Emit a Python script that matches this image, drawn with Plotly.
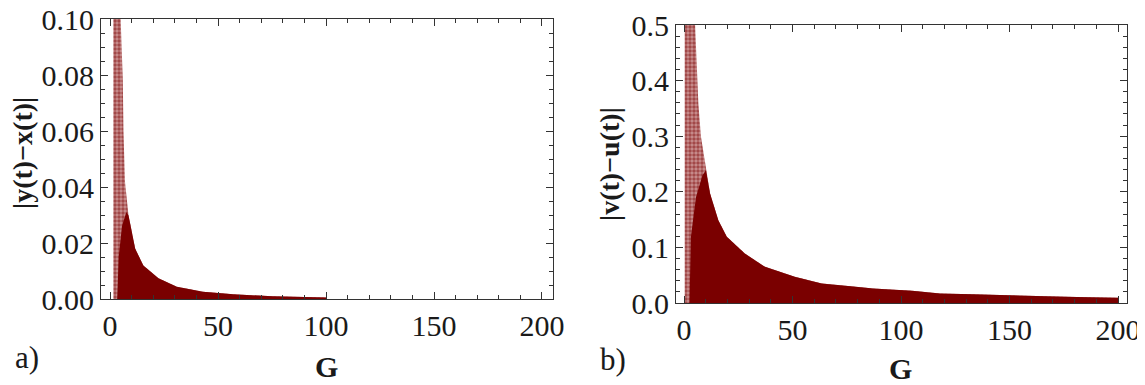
import plotly.graph_objects as go

# ---- data (envelopes of the point clouds) ----
# panel a) : |y(t)-x(t)| versus G, upper envelope of the cloud
G_a_upper = [1.5, 4.9, 5.9, 6.2, 6.9, 8.5, 10.0, 11.6, 15.4, 22.4, 30.9, 43.0, 57.0, 75.0, 100.0]
D_a_upper = [0.100, 0.100, 0.078, 0.060, 0.042, 0.030, 0.024, 0.018, 0.012, 0.0074, 0.0044, 0.0026, 0.0017, 0.0010, 0.0005]
# left edge of the densely filled part of cloud a)
G_a_dense_edge = [3.3, 4.0, 5.5, 7.5]
D_a_dense_edge = [0.0, 0.015, 0.026, 0.031]

# panel b) : |v(t)-u(t)| versus G, upper envelope of the cloud
G_b_upper = [0.3, 5.1, 5.8, 6.6, 7.8, 10.1, 12.0, 15.8, 19.7, 28.0, 37.3, 51.0, 63.4, 72.0, 87.2, 105.0, 118.0, 132.6, 153.0, 181.0, 200.0]
D_b_upper = [0.50, 0.50, 0.419, 0.359, 0.299, 0.239, 0.197, 0.149, 0.119, 0.089, 0.065, 0.047, 0.035, 0.032, 0.026, 0.022, 0.017, 0.0156, 0.013, 0.0108, 0.0096]
G_b_dense_edge = [2.5, 3.2, 5.5, 8.5]
D_b_dense_edge = [0.0, 0.12, 0.19, 0.23]

x_ticks = [0, 50, 100, 150, 200]
y_ticks_a = [0.0, 0.02, 0.04, 0.06, 0.08, 0.10]
y_ticks_b = [0.0, 0.1, 0.2, 0.3, 0.4, 0.5]

RED = '#7a0000'
FONT = 'Liberation Serif'
INK = '#1a1a1a'

fig = go.Figure()


def add_cloud(gu, du, ge, de, n_dense_start, xa, ya):
    # sparse (speckled) part: whole region under the envelope
    x_s = [gu[0]] + gu + [gu[-1], gu[0]]
    y_s = [0.0] + du + [0.0, 0.0]
    fig.add_trace(go.Scatter(
        x=x_s, y=y_s, mode='lines', fill='toself',
        line=dict(width=0, color=RED), fillcolor='#c08080',
        fillpattern=dict(shape='.', fgcolor=RED, bgcolor='#c89090', size=4, solidity=0.6),
        xaxis=xa, yaxis=ya, hoverinfo='skip', showlegend=False))
    # dense part
    x_d = ge + gu[n_dense_start:] + [gu[-1], ge[0]]
    y_d = de + du[n_dense_start:] + [0.0, 0.0]
    fig.add_trace(go.Scatter(
        x=x_d, y=y_d, mode='lines', fill='toself',
        line=dict(width=0, color=RED), fillcolor=RED,
        xaxis=xa, yaxis=ya, hoverinfo='skip', showlegend=False))


add_cloud(G_a_upper, D_a_upper, G_a_dense_edge, D_a_dense_edge, 5, 'x', 'y')
add_cloud(G_b_upper, D_b_upper, G_b_dense_edge, D_b_dense_edge, 5, 'x2', 'y2')

# the page body has an 8px margin: figure is sized/positioned to compensate
OFF = 8
W, H = 1145 - OFF, 385 - OFF


def xdom(l, r):
    return [(l - OFF) / W, (r - OFF) / W]


def ydom(t, b):
    return [1 - (b - OFF) / H, 1 - (t - OFF) / H]


axis_common = dict(
    showline=True, linecolor='#333', linewidth=1, mirror='allticks',
    ticks='inside', ticklen=7, tickwidth=1, tickcolor='#333',
    showgrid=False, zeroline=False,
    tickfont=dict(family=FONT, size=30, color=INK),
    ticklabeloverflow='allow',
    automargin=False,
)

fig.update_layout(
    width=W, height=H,
    margin=dict(l=0, r=0, t=0, b=0),
    paper_bgcolor='white', plot_bgcolor='white',
    showlegend=False,
    xaxis=dict(domain=xdom(101, 553), anchor='y', range=[-4.2, 205.1],
               tickvals=x_ticks, ticktext=[str(v) for v in x_ticks],
               minor=dict(dtick=10, ticks='inside', ticklen=4, tickcolor='#333'),
               **axis_common),
    yaxis=dict(domain=ydom(19, 299), anchor='x', range=[0, 0.10001],
               tickvals=y_ticks_a, ticktext=['%.2f' % v for v in y_ticks_a],
               minor=dict(dtick=0.005, ticks='inside', ticklen=4, tickcolor='#333'),
               **axis_common),
    xaxis2=dict(domain=xdom(676, 1127), anchor='y2', range=[-3.7, 204.1],
                tickvals=x_ticks, ticktext=[str(v) for v in x_ticks],
                minor=dict(dtick=10, ticks='inside', ticklen=4, tickcolor='#333'),
                **axis_common),
    yaxis2=dict(domain=ydom(25, 303), anchor='x2', range=[0, 0.50005],
                tickvals=y_ticks_b, ticktext=['%.1f' % v for v in y_ticks_b],
                minor=dict(dtick=0.02, ticks='inside', ticklen=4, tickcolor='#333'),
                **axis_common),
)

ann = []
ann.append(dict(text='<b>|y(t)−x(t)|</b>', x=22, y=153, textangle=-90,
                font=dict(family=FONT, size=28, color=INK)))
ann.append(dict(text='<b>|v(t)−u(t)|</b>', x=610, y=164, textangle=-90,
                font=dict(family=FONT, size=28, color=INK)))
ann.append(dict(text='<b>G</b>', x=326, y=366, font=dict(family=FONT, size=30, color=INK)))
ann.append(dict(text='<b>G</b>', x=900, y=368, font=dict(family=FONT, size=30, color=INK)))
ann.append(dict(text='a)', x=27, y=357, font=dict(family=FONT, size=31, color=INK)))
ann.append(dict(text='b)', x=613, y=359, font=dict(family=FONT, size=31, color=INK)))

for a in ann:
    a['x'] = (a['x'] - OFF) / W
    a['y'] = 1 - (a['y'] - OFF) / H
    a.update(xref='paper', yref='paper', showarrow=False, xanchor='center', yanchor='middle')
fig.update_layout(annotations=ann)

fig.write_html('out.html')
